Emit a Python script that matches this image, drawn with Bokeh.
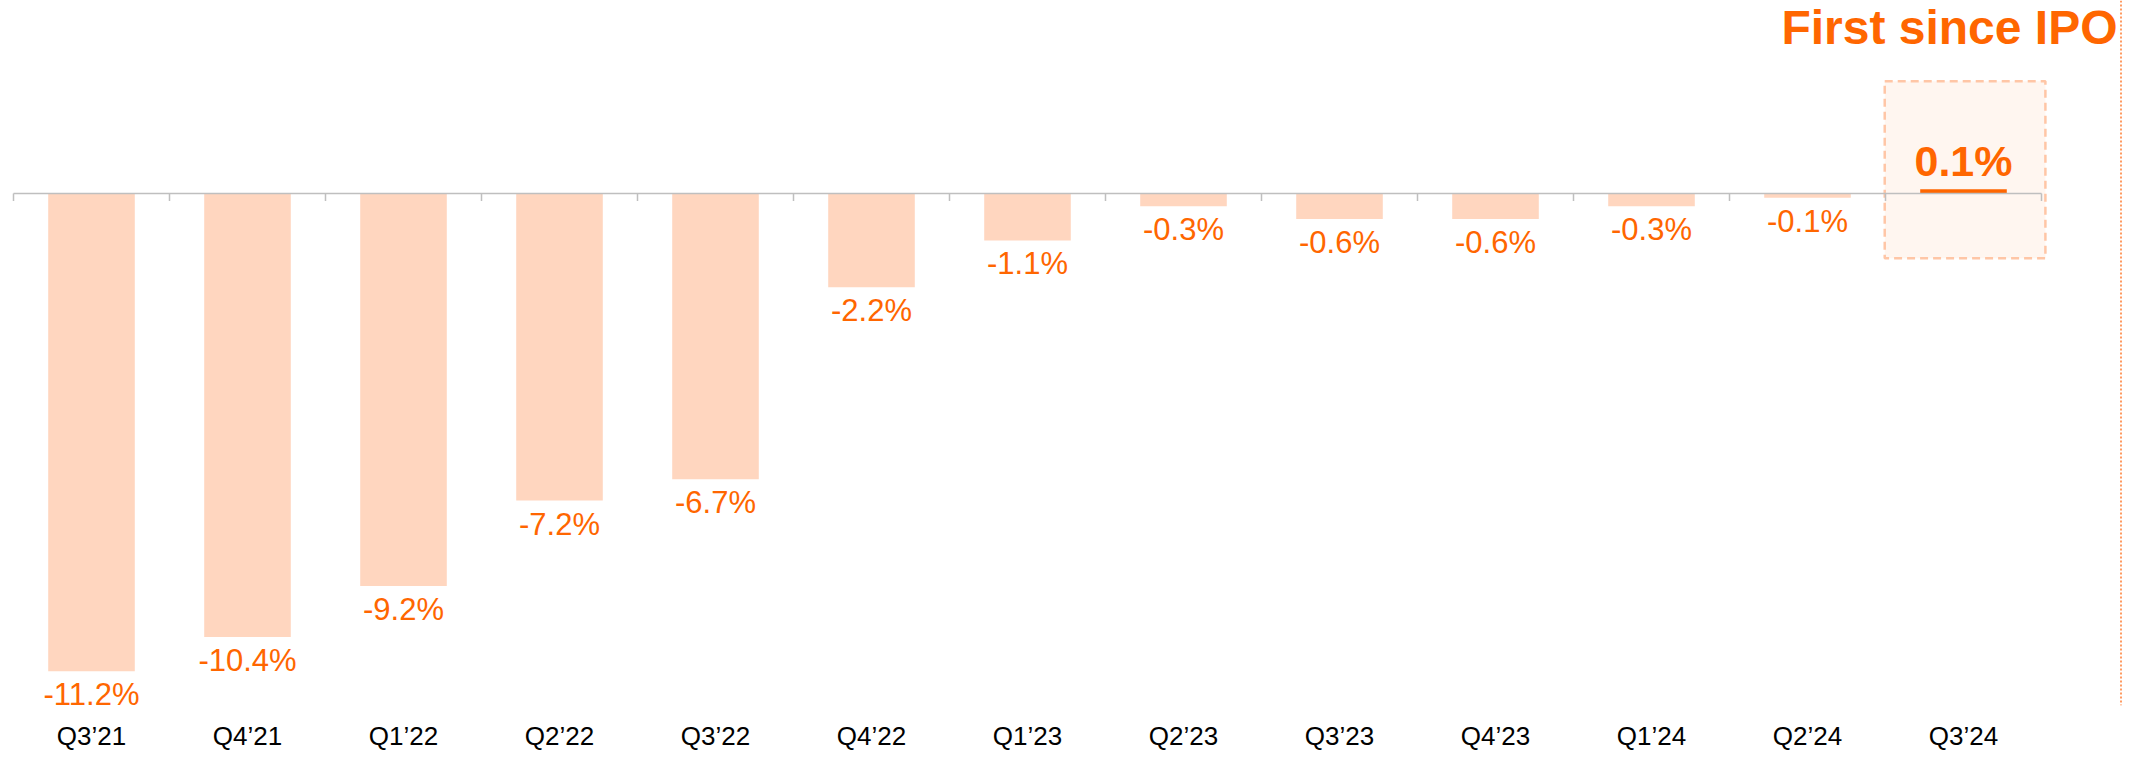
import numpy as np
from bokeh.plotting import figure
from bokeh.models import Range1d, FixedTicker, ColumnDataSource, Span
from bokeh.core.properties import value
from bokeh.embed import file_html
from bokeh.resources import INLINE

# ---- data ----
quarters = ["Q3’21", "Q4’21", "Q1’22", "Q2’22", "Q3’22", "Q4’22", "Q1’23",
            "Q2’23", "Q3’23", "Q4’23", "Q1’24", "Q2’24", "Q3’24"]
margin_change = [-11.2, -10.4, -9.2, -7.2, -6.7, -2.2, -1.1,
                 -0.3, -0.6, -0.6, -0.3, -0.1, 0.1]
callout_text = "First since IPO"

# ---- style ----
FONT = "Liberation Sans"
ORANGE = "#FF6600"
PEACH = "#FFD6BF"
AXIS_GRAY = "#BFBFBF"

W, H = 2122, 757
px_y = 42.65          # pixels per 1 percentage point
px_x = 156.0          # pixels per category
zero_px = 193         # canvas y of zero line
left_pad = 13
border_bottom = 52
frame_h = H - border_bottom

x_start = -left_pad / px_x
x_end = x_start + W / px_x
y_end = zero_px / px_y
y_start = -(frame_h - zero_px) / px_y

n = len(quarters)
centers = np.arange(n) + 0.5
hi = n - 1  # highlighted (last) quarter

p = figure(width=W, height=H, x_range=Range1d(x_start, x_end),
           y_range=Range1d(y_start, y_end), output_backend="svg",
           toolbar_location=None, y_axis_location=None,
           min_border_left=0, min_border_right=0, min_border_top=0,
           min_border_bottom=border_bottom)
p.grid.visible = False
p.outline_line_color = None
p.background_fill_color = "white"
p.border_fill_color = "white"

# highlight box behind the last bar
p.quad(left=[hi - 0.005], right=[hi + 1.025], top=[2.63], bottom=[-1.52],
       fill_color="#FFF6F0", line_color="#FFC6A6", line_width=2.5,
       line_dash="8 5")

colors = [PEACH] * (n - 1) + [ORANGE]
src = ColumnDataSource(dict(x=centers, top=margin_change, color=colors))
p.vbar(x="x", top="top", bottom=0, width=0.555, fill_color="color",
       line_color=None, source=src)

# zero line with boundary ticks
p.segment(x0=[0], y0=[0], x1=[n], y1=[0], line_color=AXIS_GRAY, line_width=1.5)
bounds = np.arange(n + 1)
tick_len = 7.5 / px_y
p.segment(x0=bounds, y0=np.zeros(n + 1), x1=bounds, y1=-tick_len * np.ones(n + 1),
          line_color=AXIS_GRAY, line_width=1.5)

# value labels
neg_x = centers[:hi]
neg_v = margin_change[:hi]
p.text(x=neg_x, y=neg_v, text=[f"{v:.1f}%" for v in neg_v],
       text_align="center", text_baseline="top", y_offset=6,
       text_font=value(FONT), text_font_size="31px", text_color=ORANGE)
p.text(x=[centers[hi]], y=[margin_change[hi]], text=[f"{margin_change[hi]:.1f}%"],
       text_align="center", text_baseline="top", y_offset=-52,
       text_font=value(FONT), text_font_size="43px", text_font_style="bold",
       text_color=ORANGE)

# callout
p.text(x=[x_start + 2117 / px_x], y=[y_end], text=[callout_text],
       text_align="right", text_baseline="top", y_offset=0,
       text_font=value(FONT), text_font_size="48px", text_font_style="bold",
       text_color=ORANGE)

# dotted separator at right edge
p.add_layout(Span(location=x_start + 2120.5 / px_x, dimension="height",
                  line_color="#FF7A2E", line_width=1.5, line_dash="2 2"))

# category axis at bottom
ax = p.xaxis[0]
ax.ticker = FixedTicker(ticks=list(centers))
ax.major_label_overrides = {float(c): q for c, q in zip(centers, quarters)}
ax.axis_line_color = None
ax.major_tick_line_color = None
ax.minor_tick_line_color = None
ax.major_tick_out = 0
ax.major_tick_in = 0
ax.major_label_standoff = 15
ax.major_label_text_font = FONT
ax.major_label_text_font_size = "26px"
ax.major_label_text_color = "black"

open("out.html", "w").write(file_html(p, INLINE))
